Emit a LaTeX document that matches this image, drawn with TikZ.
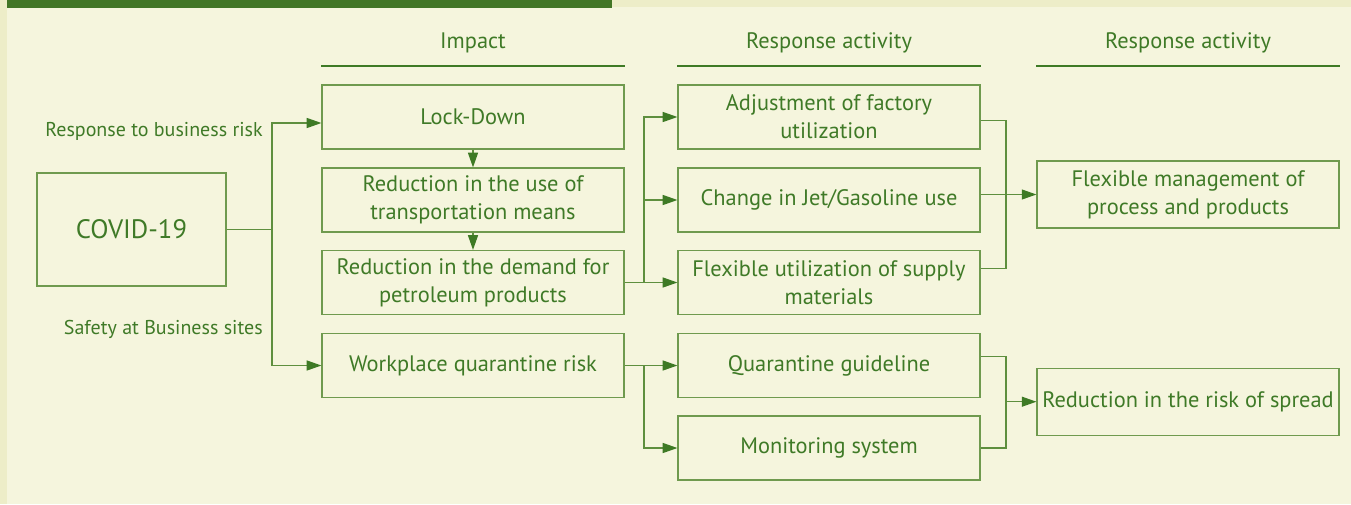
\documentclass[tikz,border=0pt]{standalone}
\usepackage{fontspec}
\setmainfont{PT Sans}
\usetikzlibrary{arrows.meta}
\definecolor{bgc}{HTML}{F5F5DD}
\definecolor{stripc}{HTML}{EDEDC8}
\definecolor{barc}{HTML}{427626}
\definecolor{txtc}{HTML}{3F7A27}
\definecolor{boxc}{HTML}{6F9A4E}
\definecolor{linkc}{HTML}{5E8F3E}
\definecolor{tipc}{HTML}{3E7A25}

\begin{document}
\begin{tikzpicture}
    [x=0.75pt,y=-0.75pt,
     every node/.style={text=txtc,font=\fontsize{16.8}{21}\selectfont},
     box/.style={draw=boxc,line width=0.9pt,minimum width=226.5pt,minimum height=48pt,align=center,inner sep=2pt},
     lab/.style={font=\fontsize{15}{18}\selectfont,anchor=east,inner sep=0pt},
     link/.style={draw=linkc,line width=0.9pt},
     arr/.style={link,-{Triangle[length=11pt,width=7.5pt,color=tipc]}},
     rule/.style={draw=tipc,line width=1.6pt}]
    % background and top bar
    \fill[bgc] (0,0) rectangle (1351,504);
    \fill[stripc] (0,0) rectangle (7,504);
    \fill[stripc] (612,0) rectangle (1351,7);
    \fill[barc] (7,0) rectangle (612,8);

    \node[box,minimum width=141.75pt,minimum height=84.75pt,font=\fontsize{20}{24}\selectfont] (covid) at (131.5,229.5) {COVID-19};

    \node[lab] (l1) at (263,131) {Response to business risk};
    \node[lab] (l2) at (263,329) {Safety at Business sites};

    \node (h1) at (473,43) {Impact};
    \node (h2) at (829,43) {Response activity};
    \node (h3) at (1188,43) {Response activity};

    \node[box] (im1) at (473,117) {Lock-Down};
    \node[box] (im2) at (473,200) {Reduction in the use of\\transportation means};
    \node[box] (im3) at (473,282.5) {Reduction in the demand for\\petroleum products};
    \node[box] (im4) at (473,365.5) {Workplace quarantine risk};

    \node[box] (ra1) at (829,117) {Adjustment of factory\\utilization};
    \node[box] (ra2) at (829,200) {Change in Jet/Gasoline use};
    \node[box] (ra3) at (829,282.5) {Flexible utilization of supply\\materials};
    \node[box] (ra4) at (829,365.5) {Quarantine guideline};
    \node[box] (ra5) at (829,448) {Monitoring system};

    \node[box,minimum height=50.25pt] (rb1) at (1188,194.5) {Flexible management of\\process and products};
    \node[box,minimum height=50.25pt] (rb2) at (1188,401.7) {Reduction in the risk of spread};

    \draw[rule] ([yshift=13.5pt]im1.north west) -- ([yshift=13.5pt]im1.north east);
    \draw[rule] ([yshift=13.5pt]ra1.north west) -- ([yshift=13.5pt]ra1.north east);
    \draw[rule] ([yshift=13.5pt]ra1.north west -| rb1.west) -- ([yshift=13.5pt]ra1.north east -| rb1.east);

    \coordinate (s1) at (272,229.5);
    \draw[link] (covid.east) -- (s1);
    \draw[arr] (s1) |- ([yshift=-4.5pt]im1.west);
    \draw[arr] (s1) |- (im4.west);

    \draw[arr] (im1.south) -- (im2.north);
    \draw[arr] (im2.south) -- (im3.north);

    \coordinate (s2) at (644,282.5);
    \draw[arr] (im3.east) -- (ra3.west);
    \draw[arr] (s2) |- (ra1.west);
    \draw[arr] (s2) |- (ra2.west);

    \coordinate (s3) at (644,365.5);
    \draw[arr] (im4.east) -- (ra4.west);
    \draw[arr] (s3) |- (ra5.west);

    \coordinate (m1) at (1006,194.5);
    \draw[link] ([yshift=-2.8pt]ra1.east) -| (m1);
    \draw[link] ([yshift=10.7pt]ra3.east) -| (m1);
    \draw[arr] (ra2.east |- rb1.west) -- (rb1.west);

    \coordinate (m2) at (1006,401.7);
    \draw[link] ([yshift=6.9pt]ra4.east) -| (m2);
    \draw[link] (ra5.east) -| (m2);
    \draw[arr] (m2) -- (rb2.west);
  \end{tikzpicture}
\end{document}
